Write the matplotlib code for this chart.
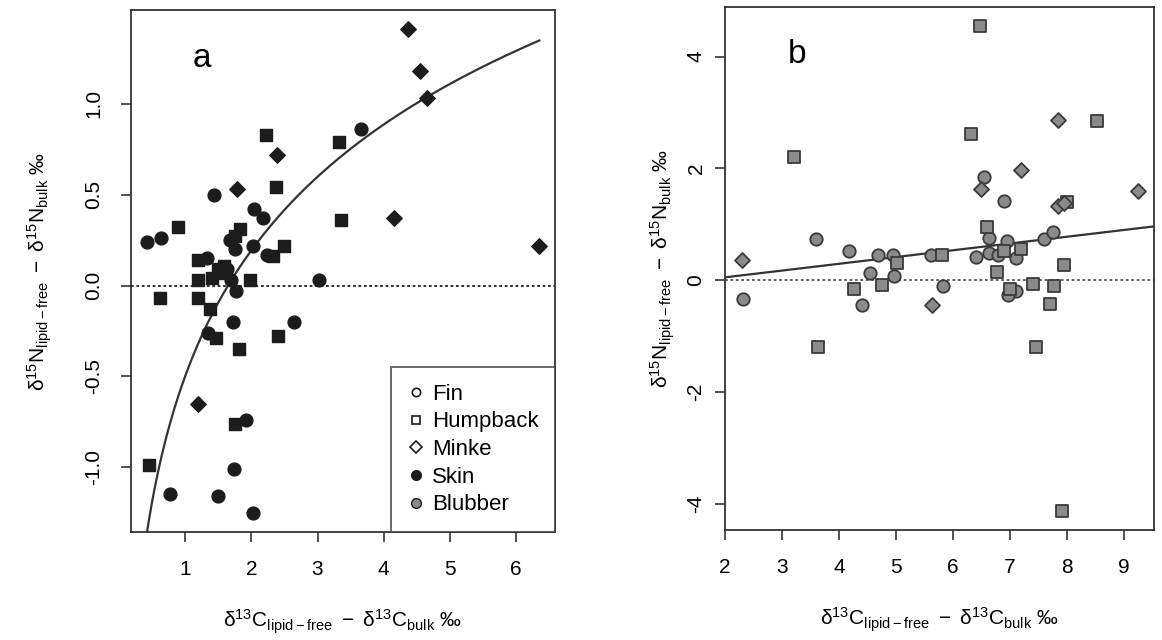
import numpy as np
import matplotlib
matplotlib.use("Agg")
import matplotlib.pyplot as plt
from matplotlib.lines import Line2D

plt.rcParams['font.family'] = ['Liberation Sans', 'DejaVu Sans']
plt.rcParams['axes.unicode_minus'] = False
plt.rcParams['mathtext.fontset'] = 'custom'
plt.rcParams['mathtext.rm'] = 'Liberation Sans'
plt.rcParams['mathtext.it'] = 'Liberation Sans:italic'

# ---------------- Panel a (skin) ----------------
fin_skin_x = [0.42, 0.63, 1.44, 2.04, 2.18, 1.68, 1.76, 2.03, 2.24, 1.33, 3.66, 3.02,
              1.77, 1.64, 1.70, 1.72, 2.64, 1.34, 1.92, 1.74, 0.77, 1.50, 2.03]
fin_skin_y = [0.24, 0.26, 0.50, 0.42, 0.37, 0.25, 0.20, 0.22, 0.17, 0.15, 0.86, 0.03,
              -0.03, 0.09, 0.03, -0.20, -0.20, -0.26, -0.74, -1.01, -1.15, -1.16, -1.25]
hump_skin_x = [2.22, 3.32, 2.37, 0.89, 1.83, 3.36, 2.49, 1.19, 2.33, 1.20, 1.41, 1.50,
               1.58, 1.98, 0.62, 1.20, 1.38, 1.47, 2.40, 1.82, 0.45, 1.76, 1.76, 1.60]
hump_skin_y = [0.83, 0.79, 0.54, 0.32, 0.31, 0.36, 0.22, 0.14, 0.16, 0.03, 0.04, 0.09,
               0.11, 0.03, -0.07, -0.07, -0.13, -0.29, -0.28, -0.35, -0.99, -0.76, 0.27, 0.07]
minke_skin_x = [4.37, 4.55, 4.65, 4.16, 6.35, 2.39, 1.79, 1.19]
minke_skin_y = [1.41, 1.18, 1.03, 0.37, 0.22, 0.72, 0.53, -0.65]
# log fit y = a + b*ln(x)
fit_a_coef = (-0.50, 1.00)

# ---------------- Panel b (blubber) ----------------
fin_blub_x = [2.32, 3.59, 4.17, 4.68, 4.95, 4.55, 4.96, 4.40, 5.62, 5.82, 6.54, 6.89,
              6.64, 6.94, 6.41, 6.64, 6.79, 7.11, 7.60, 7.75, 7.11, 6.97]
fin_blub_y = [-0.34, 0.73, 0.52, 0.46, 0.46, 0.13, 0.08, -0.45, 0.45, -0.11, 1.84, 1.41,
              0.75, 0.70, 0.41, 0.48, 0.45, 0.39, 0.73, 0.86, -0.19, -0.27]
hump_blub_x = [3.21, 6.47, 6.31, 8.53, 8.00, 6.59, 6.89, 7.20, 7.95, 6.78, 7.00, 7.41,
               7.78, 7.71, 5.80, 5.01, 4.26, 4.75, 3.63, 7.45, 7.92]
hump_blub_y = [2.20, 4.54, 2.62, 2.84, 1.40, 0.96, 0.52, 0.55, 0.27, 0.14, -0.15, -0.07,
               -0.11, -0.43, 0.45, 0.30, -0.15, -0.09, -1.20, -1.20, -4.12]
minke_blub_x = [2.30, 7.85, 7.20, 6.50, 7.85, 7.95, 9.25, 5.64]
minke_blub_y = [0.37, 2.86, 1.97, 1.64, 1.32, 1.38, 1.59, -0.45]
# linear fit y = a + b*x
fit_b_coef = (-0.19, 0.121)

xlabel = r'$\mathrm{δ}^{13}\mathrm{C}_{\mathrm{lipid-free}}\ -\ \mathrm{δ}^{13}\mathrm{C}_{\mathrm{bulk}}$ ‰'
ylabel = r'$\mathrm{δ}^{15}\mathrm{N}_{\mathrm{lipid-free}}\ -\ \mathrm{δ}^{15}\mathrm{N}_{\mathrm{bulk}}$ ‰'

legend_labels = ['Fin', 'Humpback', 'Minke', 'Skin', 'Blubber']

DARK = '#1c1c1c'
GREY = '#8a8a8a'
LINE = '#333333'


def rlim(vals):
    lo, hi = min(vals), max(vals)
    pad = 0.04 * (hi - lo)
    return lo - pad, hi + pad


fig = plt.figure(figsize=(11.62, 6.40), dpi=100)
axa = fig.add_axes([131 / 1162, 1 - 532 / 640, (555 - 131) / 1162, (532 - 10) / 640])
axb = fig.add_axes([725 / 1162, 1 - 530 / 640, (1154 - 725) / 1162, (530 - 7) / 640])

# Panel a
axa.scatter(fin_skin_x, fin_skin_y, marker='o', s=85, c=DARK, edgecolors=DARK, zorder=3)
axa.scatter(hump_skin_x, hump_skin_y, marker='s', s=72, c=DARK, edgecolors=DARK, zorder=3)
axa.scatter(minke_skin_x, minke_skin_y, marker='D', s=62, c=DARK, edgecolors=DARK, zorder=3)

allx = fin_skin_x + hump_skin_x + minke_skin_x
ally = fin_skin_y + hump_skin_y + minke_skin_y
xl = rlim(allx)
yl = rlim(ally)
axa.set_xlim(xl)
axa.set_ylim(yl)
a0, b0 = fit_a_coef
xstart = np.exp((yl[0] - a0) / b0)
xs = np.linspace(xstart, max(allx), 300)
axa.plot(xs, a0 + b0 * np.log(xs), color=LINE, lw=1.6, zorder=2)
axa.axhline(0, color=DARK, lw=1.3, ls=(0, (1.5, 1.5)), zorder=1)
axa.set_xticks([1, 2, 3, 4, 5, 6])
axa.set_yticks([-1.0, -0.5, 0.0, 0.5, 1.0])
axa.set_yticklabels(['-1.0', '-0.5', '0.0', '0.5', '1.0'])
axa.text(1.26, 1.25, 'a', fontsize=24, ha='center', va='center')

handles = [
    Line2D([], [], ls='', marker='o', ms=6, mfc='white', mec=DARK, mew=1.2),
    Line2D([], [], ls='', marker='s', ms=6, mfc='white', mec=DARK, mew=1.2),
    Line2D([], [], ls='', marker='D', ms=6, mfc='white', mec=DARK, mew=1.2),
    Line2D([], [], ls='', marker='o', ms=7, mfc=DARK, mec=DARK, mew=1.0),
    Line2D([], [], ls='', marker='o', ms=7, mfc=GREY, mec=DARK, mew=1.0),
]
leg = axa.legend(handles, legend_labels, loc='lower right', fontsize=16,
                 frameon=True, fancybox=False, borderaxespad=0, labelspacing=0.3,
                 handletextpad=0.35, handlelength=0.75, borderpad=0.75)
leg.get_frame().set_edgecolor(LINE)
leg.get_frame().set_linewidth(1.3)

# Panel b
axb.scatter(fin_blub_x, fin_blub_y, marker='o', s=80, c=GREY, edgecolors='#3a3a3a', linewidths=1.3, zorder=3)
axb.scatter(hump_blub_x, hump_blub_y, marker='s', s=65, c=GREY, edgecolors='#3a3a3a', linewidths=1.3, zorder=3)
axb.scatter(minke_blub_x, minke_blub_y, marker='D', s=58, c=GREY, edgecolors='#3a3a3a', linewidths=1.3, zorder=3)

allxb = fin_blub_x + hump_blub_x + minke_blub_x
allyb = fin_blub_y + hump_blub_y + minke_blub_y
xlb = rlim(allxb)
ylb = rlim(allyb)
axb.set_xlim(xlb)
axb.set_ylim(ylb)
a1, b1 = fit_b_coef
xx = np.array(xlb)
axb.plot(xx, a1 + b1 * xx, color=LINE, lw=1.6, zorder=2)
axb.axhline(0, color='#555555', lw=1.3, ls=(0, (1.5, 1.5)), zorder=1)
axb.set_xticks([2, 3, 4, 5, 6, 7, 8, 9])
axb.set_yticks([-4, -2, 0, 2, 4])
axb.text(3.26, 4.04, 'b', fontsize=24, ha='center', va='center')

for ax in (axa, axb):
    for sp in ax.spines.values():
        sp.set_color(LINE)
        sp.set_linewidth(1.3)
    ax.tick_params(direction='out', length=7, width=1.2, color=LINE, labelsize=15, pad=13)
    for lab in ax.get_yticklabels():
        lab.set_rotation(90)
        lab.set_va('center')
    ax.set_xlabel(xlabel, fontsize=15, labelpad=21)

axa.set_ylabel(ylabel, fontsize=15, labelpad=22)
axb.tick_params(axis='y', pad=7)
axb.set_ylabel(ylabel, fontsize=15, labelpad=7)

fig.savefig('out.png', dpi=100, facecolor='white')
